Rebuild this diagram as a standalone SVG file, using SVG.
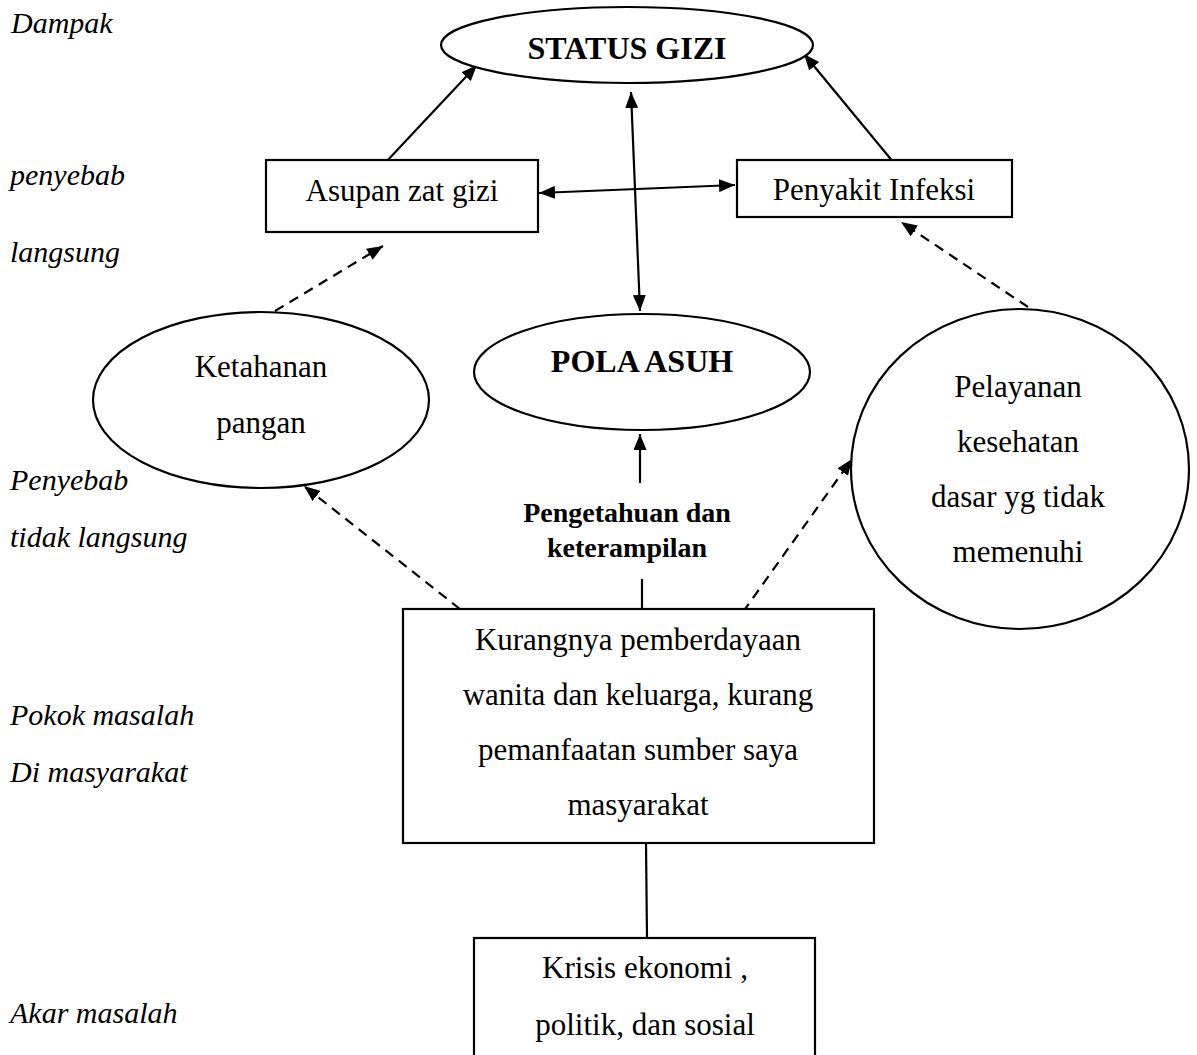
<svg xmlns="http://www.w3.org/2000/svg" width="1197" height="1055" viewBox="0 0 1197 1055">
<style>
.shape{fill:#fff;stroke:#000;stroke-width:2.2}
.t{font-family:"Liberation Serif","Times New Roman",serif;font-size:31px;fill:#000;text-anchor:middle}
.b{font-weight:bold;font-size:32px}
.sb{font-weight:bold;font-size:28px}
.lab{font-family:"Liberation Serif","Times New Roman",serif;font-size:30px;font-style:italic;fill:#000}
.c{fill:none;stroke:#000;stroke-width:2.2}
.d{stroke-dasharray:10 7}
</style>
<defs>
<marker id="ah" viewBox="0 0 16 13" refX="16" refY="6.5" markerWidth="16" markerHeight="13" markerUnits="userSpaceOnUse" orient="auto-start-reverse">
<path d="M0,0 L16,6.5 L0,13 Z" fill="#000"/>
</marker>
</defs>
<rect width="1197" height="1055" fill="#fff"/>
<g id="labels">
<text class="lab" x="11" y="33">Dampak</text>
<text class="lab" x="10" y="185">penyebab</text>
<text class="lab" x="10" y="262">langsung</text>
<text class="lab" x="10" y="490">Penyebab</text>
<text class="lab" x="10" y="547">tidak langsung</text>
<text class="lab" x="10" y="725">Pokok masalah</text>
<text class="lab" x="10" y="782">Di masyarakat</text>
<text class="lab" x="10" y="1023">Akar masalah</text>
</g>
<g id="connectors">
<line class="c" x1="386" y1="162" x2="477" y2="65" marker-end="url(#ah)"/>
<line class="c" x1="894" y1="163" x2="804" y2="54" marker-end="url(#ah)"/>
<line class="c" x1="539" y1="193" x2="735" y2="185" marker-start="url(#ah)" marker-end="url(#ah)"/>
<line class="c" x1="631" y1="92" x2="640" y2="311" marker-start="url(#ah)" marker-end="url(#ah)"/>
<line class="c" x1="640" y1="483" x2="640" y2="434" marker-end="url(#ah)"/>
<line class="c" x1="642" y1="579" x2="642" y2="609"/>
<line class="c" x1="646" y1="843" x2="647" y2="938"/>
<line class="c d" x1="275" y1="311" x2="383" y2="246" marker-end="url(#ah)"/>
<line class="c d" x1="460" y1="609" x2="304" y2="486" marker-end="url(#ah)"/>
<line class="c d" x1="743" y1="612" x2="852" y2="459" marker-end="url(#ah)"/>
<line class="c d" x1="1028" y1="307" x2="901" y2="222" marker-end="url(#ah)"/>
</g>
<g id="status-gizi">
<ellipse class="shape" cx="627" cy="45" rx="186" ry="38"/>
<text class="t b" x="627" y="59">STATUS GIZI</text>
</g>
<g id="asupan">
<rect class="shape" x="266" y="160" width="272" height="72"/>
<text class="t" x="402" y="201">Asupan zat gizi</text>
</g>
<g id="penyakit">
<rect class="shape" x="737" y="160" width="275" height="57"/>
<text class="t" x="874" y="200">Penyakit Infeksi</text>
</g>
<g id="ketahanan">
<ellipse class="shape" cx="261" cy="400" rx="168" ry="88"/>
<text class="t" x="261" y="377">Ketahanan</text>
<text class="t" x="261" y="433">pangan</text>
</g>
<g id="pola-asuh">
<ellipse class="shape" cx="642" cy="372" rx="168" ry="58"/>
<text class="t b" x="642" y="372">POLA ASUH</text>
</g>
<g id="pengetahuan">
<text class="t sb" x="627" y="522">Pengetahuan dan</text>
<text class="t sb" x="627" y="557">keterampilan</text>
</g>
<g id="pelayanan">
<ellipse class="shape" cx="1020" cy="469" rx="169" ry="160"/>
<text class="t" x="1018" y="397">Pelayanan</text>
<text class="t" x="1018" y="452">kesehatan</text>
<text class="t" x="1018" y="507">dasar yg tidak</text>
<text class="t" x="1018" y="562">memenuhi</text>
</g>
<g id="kurangnya">
<rect class="shape" x="403" y="609" width="471" height="234"/>
<text class="t" x="638" y="650">Kurangnya pemberdayaan</text>
<text class="t" x="638" y="705">wanita dan keluarga, kurang</text>
<text class="t" x="638" y="760">pemanfaatan sumber saya</text>
<text class="t" x="638" y="815">masyarakat</text>
</g>
<g id="krisis">
<rect class="shape" x="474" y="938" width="341" height="130"/>
<text class="t" x="645" y="978">Krisis ekonomi ,</text>
<text class="t" x="645" y="1035">politik, dan sosial</text>
</g>
</svg>
